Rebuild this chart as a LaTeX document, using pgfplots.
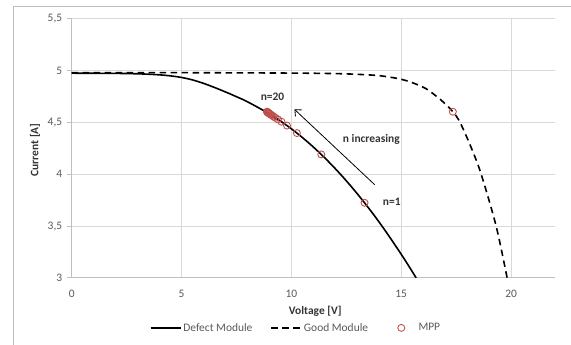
\documentclass[border=0pt]{standalone}
\usepackage{fontspec}
\setmainfont{Carlito}
\usepackage{pgfplots}
\pgfplotsset{compat=1.18}
\usetikzlibrary{arrows.meta}
\definecolor{mppred}{HTML}{C0504D}
\definecolor{gridgray}{HTML}{D9D9D9}
\definecolor{axgray}{HTML}{BFBFBF}
\definecolor{txtgray}{HTML}{595959}
\definecolor{titlegray}{HTML}{333333}

\pgfplotstableread{
V I
0 4.976
2 4.974
3 4.970
3.5 4.966
4 4.960
4.5 4.950
5 4.935
5.5 4.911
6 4.878
6.5 4.838
7 4.795
7.5 4.749
8 4.700
9 4.582
10 4.439
11 4.263
12 4.054
13 3.812
14 3.537
15 3.228
15.68 3.0
}\defect

\pgfplotstableread{
V I
0 4.982
5 4.981
10 4.977
12 4.972
13 4.965
14 4.952
14.9 4.922
15.5 4.885
16.1 4.83
16.5 4.77
16.9 4.70
17.35 4.604
17.68 4.50
18.2 4.25
18.64 4.00
19.32 3.50
19.82 3.00
}\good

\pgfplotstableread{
V I
13.33 3.725
11.36 4.192
10.25 4.398
9.80 4.470
9.55 4.508
9.39 4.530
9.28 4.545
9.20 4.556
9.14 4.565
9.09 4.572
9.05 4.578
9.02 4.583
8.99 4.587
8.97 4.590
8.95 4.593
8.93 4.596
8.92 4.598
8.91 4.600
8.90 4.602
8.89 4.604
17.35 4.604
}\mpp

\begin{document}
\begin{tikzpicture}[x=1bp,y=1bp]
\begin{axis}[
  at={(0,0)}, anchor=south west,
  width=483.3bp, height=259bp, scale only axis,
  xmin=0, xmax=22, ymin=3, ymax=5.5,
  xtick={0,5,10,15,20},
  ytick={3,3.5,4,4.5,5,5.5},
  yticklabels={3,{3,5},4,{4,5},5,{5,5}},
  axis x line*=bottom, axis y line*=left,
  axis line style={color=axgray, line width=0.9bp},
  grid=major,
  grid style={color=gridgray, line width=0.9bp},
  tick align=outside,
  major tick length=5bp,
  y tick style={color=axgray, line width=0.9bp},
  x tick style={draw=none},
  /pgf/number format/assume math mode=true,
  tick label style={font=\fontsize{11.5}{13}\selectfont, text=txtgray},
  xticklabel style={yshift=-4bp},
  yticklabel style={xshift=-1bp},
  xlabel={Voltage [V]},
  ylabel={Current [A]},
  label style={font=\bfseries\fontsize{11.5}{13}\selectfont, text=titlegray},
  xlabel style={at={(axis description cs:0.504,-0.128)}, anchor=center},
  ylabel style={at={(axis description cs:-0.076,0.494)}, anchor=center},
  legend columns=3,
  legend style={at={(axis description cs:0.464,-0.193)}, anchor=center,
    draw=none, fill=none, font=\fontsize{11.5}{13}\selectfont, text=txtgray,
    /tikz/every even column/.append style={column sep=16bp},
    /tikz/every odd column/.append style={column sep=0bp},
    inner sep=0pt},
  legend image code/.code={\path (0bp,0bp) (30bp,0bp);\draw[mark repeat=2,mark phase=2,#1] plot coordinates {(0bp,0bp) (15bp,0bp) (30bp,0bp)};},
]
\addplot[black, line width=1.6bp, smooth, tension=0.6] table[x=V,y=I] {\defect};
\addlegendentry{Defect Module}
\addplot[black, line width=1.6bp, dash pattern=on 6.5bp off 4.5bp, smooth, tension=0.5] table[x=V,y=I] {\good};
\addlegendentry{Good Module}
\addplot[only marks, mark=o, mark size=3.5bp, mppred, mark options={line width=0.9bp}] table[x=V,y=I] {\mpp};
\addlegendentry{MPP}
\draw[black, line width=0.8bp, -{Straight Barb[length=5bp,width=9bp]}] (axis cs:13.79,3.90) -- (axis cs:10.14,4.627);
\node[font=\bfseries\fontsize{11.5}{13}\selectfont, text=titlegray] at (axis cs:9.14,4.75) {n=20};
\node[font=\bfseries\fontsize{11.5}{13}\selectfont, text=titlegray] at (axis cs:13.64,4.34) {n increasing};
\node[font=\bfseries\fontsize{11.5}{13}\selectfont, text=titlegray] at (axis cs:14.57,3.73) {n=1};
\end{axis}
\draw[color=axgray, line width=0.9bp] (-58.4,-120) -- (-58.4,271.9) -- (620,271.9);
\pgfresetboundingbox
\path[use as bounding box] (-71.7,-66.1) rectangle (499.3,277.9);
\end{tikzpicture}
\end{document}
